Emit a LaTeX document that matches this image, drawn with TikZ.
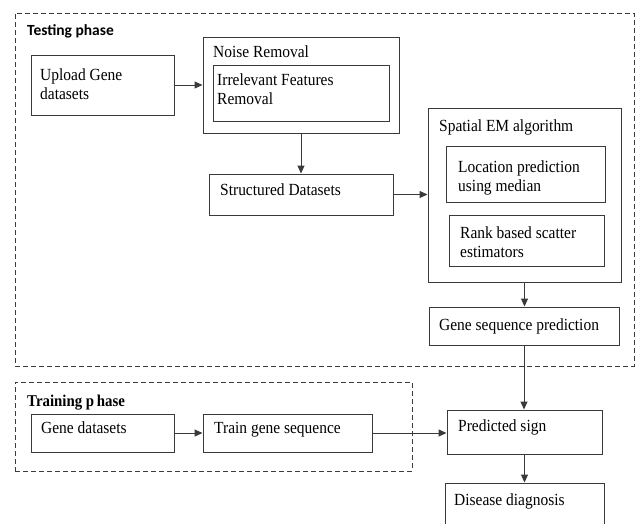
\documentclass[tikz,border=0pt]{standalone}
\usepackage{fontspec}
\setmainfont{Liberation Serif}[FakeStretch=0.91]
\newfontfamily\labelsans{Carlito}
\newfontfamily\labelserif{Liberation Serif}[FakeStretch=0.9]
\usetikzlibrary{arrows.meta,fit}
\definecolor{linegray}{HTML}{3A3A3A}
\tikzset{
  boxshape/.style={draw=linegray, line width=1pt, rectangle, inner sep=0pt},
  dashbox/.style={draw=linegray, line width=1pt, dash pattern=on 5pt off 3pt, rectangle, inner sep=0pt},
  txt/.style={anchor=base west, inner sep=0pt, font=\fontsize{17}{19.5}\selectfont},
  conn/.style={draw=linegray, line width=1pt, -{Triangle[length=8pt,width=7pt]}},
}
\newcommand{\mkbox}[6][boxshape]{%
  \path (#3,#4) coordinate (#2-a) (#5,#6) coordinate (#2-b);
  \node[#1, fit=(#2-a)(#2-b)] (#2) {};}
\newcommand{\ml}[1]{\begin{tabular}[t]{@{}l@{}}#1\end{tabular}}
\begin{document}
\begin{tikzpicture}[x=1pt,y=-1pt]
\useasboundingbox (0,0) rectangle (636,523);
\clip (0,0) rectangle (636,523);
\fill[white] (0,0) rectangle (636,523);
% phases
\mkbox[dashbox]{testing}{15}{13}{634}{366}
\mkbox[dashbox]{training}{15}{382}{412}{471}
\node[anchor=base west, inner sep=0pt, font=\labelsans\bfseries\fontsize{15.5}{17}\selectfont] (testlbl) at (27,35) {Testing phase};
\node[anchor=base west, inner sep=0pt, font=\labelserif\bfseries\fontsize{16.5}{18}\selectfont] (trainlbl) at (27,406) {Training p\,hase};
% boxes
\mkbox{upload}{31}{55}{174}{115}
\mkbox{noise}{203}{37}{399}{133}
\mkbox{irrel}{213}{65}{389}{121}
\mkbox{struct}{209}{174}{393}{215}
\mkbox{spatial}{428}{108}{621}{282}
\mkbox{loc}{446}{146}{605}{202}
\mkbox{rank}{449}{215}{604}{266}
\mkbox{gsp}{429}{307}{619}{345}
\mkbox{pred}{447}{410}{602}{454}
\mkbox{disease}{445}{483}{604}{540}
\mkbox{gened}{31}{414}{174}{452}
\mkbox{train}{203}{414}{372}{452}
% texts
\node[txt] (t-upload) at (40,80) {\ml{Upload Gene\\datasets}};
\node[txt] (t-noise) at (213,57) {Noise Removal};
\node[txt] (t-irrel) at (217,85) {\ml{Irrelevant Features\\Removal}};
\node[txt] (t-struct) at (220,195) {Structured Datasets};
\node[txt] (t-spatial) at (439,131) {Spatial EM algorithm};
\node[txt] (t-loc) at (458,172) {\ml{Location prediction\\using median}};
\node[txt] (t-rank) at (460,238) {\ml{Rank based scatter\\estimators}};
\node[txt] (t-gsp) at (439,330) {Gene sequence prediction};
\node[txt] (t-pred) at (458,431) {Predicted sign};
\node[txt] (t-disease) at (454,505) {Disease diagnosis};
\node[txt] (t-gened) at (41,433) {Gene datasets};
\node[txt] (t-train) at (214,433) {Train gene sequence};
% connectors
\draw[conn] (upload.east) -- (upload.east -| noise.west);
\draw[conn] (noise.south) -- (struct.north);
\draw[conn] (struct.east) -- (struct.east -| spatial.west);
\draw[conn] (spatial.south) -- (spatial.south |- gsp.north);
\draw[conn] (gsp.south) -- (gsp.south |- pred.north);
\draw[conn] (pred.south) -- (pred.south |- disease.north);
\draw[conn] (gened.east) -- (gened.east -| train.west);
\draw[conn] (train.east) -- (train.east -| pred.west);
\end{tikzpicture}
\end{document}
